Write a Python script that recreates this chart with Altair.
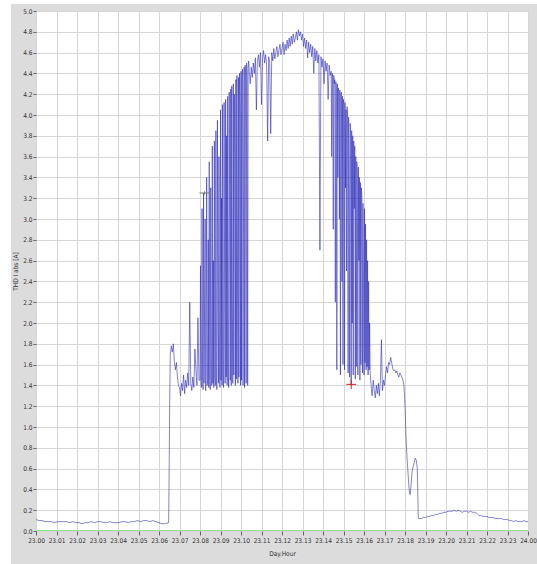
import altair as alt
import pandas as pd

# ---- data (hours after 23.00, THD I abs [A]) ----
night_start, night_step = 0.0, 0.15
night_vals = [0.11, 0.10, 0.10, 0.09, 0.09, 0.09, 0.08, 0.09, 0.09, 0.09, 0.09, 0.08, 0.09, 0.08, 0.08,
              0.07, 0.08, 0.08, 0.09, 0.08, 0.09, 0.09, 0.08, 0.08, 0.09, 0.08, 0.08, 0.08, 0.09, 0.09,
              0.08, 0.09, 0.09, 0.10, 0.09, 0.10, 0.10, 0.09, 0.10, 0.09, 0.08, 0.07, 0.07, 0.08]

rise_hours = [6.47, 6.50, 6.52, 6.55]
rise_vals = [0.08, 0.68, 1.22, 1.70]

morning_start, morning_step = 6.6, 0.05
morning_vals = (
    [1.78, 1.72, 1.80, 1.62, 1.55, 1.62, 1.48, 1.40] +
    [1.38, 1.30, 1.42, 1.35, 1.50, 1.32, 1.45, 1.38, 1.52, 1.40, 2.20, 1.42, 1.35, 1.48, 1.38, 1.75, 1.55, 1.40, 2.05, 1.45]
)

rise_spikes_start, rise_spikes_step = 8.0, 0.025
rise_spikes_vals = (
    [1.45, 2.55, 1.40, 1.38, 3.10, 1.48, 1.36, 3.25] +
    [1.42, 2.20, 3.00, 1.35, 1.50, 3.40, 1.40, 1.46] +
    [2.80, 1.38, 3.55, 1.44, 1.36, 3.30, 1.50, 1.40] +
    [3.70, 1.42, 2.60, 1.38, 3.75, 1.48, 1.40, 3.85] +
    [1.45, 1.36, 3.95, 2.10, 1.42, 3.60, 1.50, 1.38] +
    [4.05, 1.45, 3.20, 1.40, 4.10, 1.52, 1.38, 4.12] +
    [2.50, 1.42, 4.15, 1.48, 3.80, 1.40, 4.18, 1.55] +
    [1.38, 4.22, 3.00, 1.45, 4.25, 1.40, 4.28, 2.20] +
    [1.42, 4.30, 1.50, 4.20, 3.60, 1.40, 4.34, 1.46] +
    [4.38, 2.70, 1.42, 4.36, 1.48, 4.40, 4.00, 1.40] +
    [4.42, 1.45, 4.38, 4.44, 1.40, 3.20, 4.46, 1.38] +
    [4.48, 4.40, 1.42, 4.50, 4.36, 1.40, 4.45, 4.52]
)

noon_start, noon_step = 10.4, 0.05
noon_vals = (
    [4.42, 4.30, 4.46, 4.36, 4.50, 4.40, 4.55, 4.05, 4.52, 4.58, 4.46, 4.60, 4.10, 4.55, 4.62, 4.50, 4.58, 4.48, 3.75, 4.56] +
    [4.50, 3.82, 4.60, 4.52, 4.64, 4.54, 4.60, 4.66, 4.56, 4.62, 4.68, 4.58, 4.64, 4.70, 4.58, 4.68, 4.62, 4.72, 4.64, 4.74] +
    [4.66, 4.76, 4.68, 4.78, 4.70, 4.74, 4.80, 4.72, 4.82, 4.76, 4.80, 4.72, 4.78, 4.66, 4.74, 4.64, 4.72, 4.55, 4.70, 4.60] +
    [4.68, 4.56, 4.66, 4.40, 4.64, 4.52, 4.62, 4.50, 4.58, 2.70, 4.56, 4.46, 4.54, 4.30, 4.52, 4.42, 4.50, 4.15, 4.48, 4.38]
)

fall_spikes_start, fall_spikes_step = 14.4, 0.025
fall_spikes_vals = (
    [4.42, 3.60, 4.40, 4.36, 2.90, 4.38, 4.30, 4.34] +
    [2.20, 4.32, 4.28, 1.55, 4.30, 3.40, 4.26, 4.22] +
    [3.00, 4.24, 1.50, 4.20, 4.22, 2.40, 4.18, 1.60] +
    [4.15, 4.10, 1.55, 4.12, 3.30, 4.05, 2.50, 4.08] +
    [4.00, 1.52, 3.98, 3.60, 1.48, 3.92, 3.80, 1.41] +
    [3.85, 2.00, 3.80, 1.50, 3.75, 3.10, 3.70, 1.46] +
    [3.60, 1.58, 3.55, 3.45, 1.50, 3.50, 2.60, 3.40] +
    [1.45, 3.35, 1.60, 3.30, 3.20, 1.52, 3.15, 2.40] +
    [1.50, 3.10, 1.62, 2.95, 1.55, 2.80, 1.58, 2.60] +
    [1.50, 2.40, 1.55, 2.00, 1.53, 1.45, 1.40, 1.32]
)

dusk_start, dusk_step = 16.4, 0.05
dusk_vals = (
    [1.30, 1.45, 1.35, 1.28, 1.40, 1.32, 1.42, 1.30, 1.45, 1.84, 1.35, 1.45] +
    [1.40, 1.50, 1.58, 1.52, 1.62, 1.60, 1.67, 1.62, 1.56, 1.54, 1.55, 1.52, 1.54, 1.50, 1.48, 1.52, 1.50, 1.48, 1.45, 1.40] +
    [1.20, 0.90, 0.70, 0.55, 0.40, 0.35, 0.45, 0.58, 0.62, 0.66, 0.70, 0.68, 0.60, 0.12]
)

eve_start, eve_step = 18.7, 0.1
eve_vals = [0.12, 0.12, 0.13, 0.13,
            0.14, 0.14, 0.15, 0.15, 0.16, 0.16, 0.17, 0.17, 0.18, 0.18,
            0.19, 0.19, 0.19, 0.20, 0.19, 0.20, 0.19, 0.18, 0.19, 0.19,
            0.18, 0.19, 0.18, 0.18, 0.17, 0.15, 0.15, 0.14, 0.14, 0.14,
            0.13, 0.13, 0.13, 0.12, 0.12, 0.12, 0.12, 0.11, 0.11, 0.11,
            0.10, 0.10, 0.09, 0.10, 0.09, 0.09, 0.09, 0.10, 0.09, 0.09]

red_marker = {"h": [15.375], "v": [1.41]}
gray_marker = {"h": [8.22], "v": [3.25]}
x_ticks = list(range(25))
y_ticks = [round(i * 0.2, 1) for i in range(26)]

# ---- build table ----
hours, vals = [], []
def add_segment(start, step, values):
    for i, v in enumerate(values):
        hours.append(start + i * step)
        vals.append(v)

add_segment(night_start, night_step, night_vals)
hours += rise_hours
vals += rise_vals
add_segment(morning_start, morning_step, morning_vals)
add_segment(rise_spikes_start, rise_spikes_step, rise_spikes_vals)
add_segment(noon_start, noon_step, noon_vals)
add_segment(fall_spikes_start, fall_spikes_step, fall_spikes_vals)
add_segment(dusk_start, dusk_step, dusk_vals)
add_segment(eve_start, eve_step, eve_vals)
df = pd.DataFrame({"h": hours, "v": vals})

W, H = 492, 520
FONT = "Liberation Sans Narrow, Arial Narrow, DejaVu Sans Condensed, Liberation Sans, sans-serif"

xscale = alt.Scale(domain=[0, 24], nice=False, zero=False)
yscale = alt.Scale(domain=[0, 5], nice=False)

xaxis = alt.Axis(values=x_ticks, grid=True, gridColor="#d6d6d6", domain=False, labelOverlap=False,
                 labelFlush=False, labelBound=False,
                 tickColor="#666", tickSize=4, labelFontSize=6.5, labelFont=FONT, labelColor="#333",
                 labelPadding=2, title="Day.Hour", titleFontSize=6.5, titleFont=FONT,
                 titleFontWeight="normal", titleColor="#333", titlePadding=7,
                 labelExpr="datum.value == 24 ? '24.00' : '23.' + (datum.value < 10 ? '0' : '') + datum.value")
yaxis = alt.Axis(values=y_ticks, format=".1f", grid=True, gridColor="#d6d6d6", domain=False, labelOverlap=False,
                 labelFlush=False, labelBound=False,
                 tickColor="#666", tickSize=3, labelFontSize=6.5, labelFont=FONT, labelColor="#333",
                 labelPadding=1, title="THD I abs [A]", titleFontSize=6.5, titleFont=FONT,
                 titleFontWeight="normal", titleColor="#333", titleX=-18, titleY=H / 2)

X = alt.X("h:Q", scale=xscale, axis=xaxis)
Y = alt.Y("v:Q", scale=yscale, axis=yaxis)

zero_df = pd.DataFrame({"h": [0, 24], "v": [0, 0]})
green = alt.Chart(zero_df).mark_line(color="#8fe08f", strokeWidth=2, clip=True).encode(x=X, y=Y)

line = alt.Chart(df).mark_line(color="#2323b8", strokeWidth=0.7, opacity=0.8).encode(x=X, y=Y)

cross_path = "M-1,0L1,0M0,-1L0,1"
red = alt.Chart(pd.DataFrame(red_marker)).mark_point(
    shape=cross_path, size=90, filled=False, color="#d02020", strokeWidth=1, opacity=1).encode(x=X, y=Y)
gray = alt.Chart(pd.DataFrame(gray_marker)).mark_point(
    shape="M-1.6,0L1.6,0M0,-0.5L0,0.5", size=40, filled=False, color="#777", strokeWidth=1, opacity=1).encode(x=X, y=Y)

one = pd.DataFrame({"a": [0]})
white_left = alt.Chart(one).mark_rect(color="white").encode(
    x=alt.value(-36), x2=alt.value(-25), y=alt.value(-11), y2=alt.value(H + 33))
white_top = alt.Chart(one).mark_rect(color="white").encode(
    x=alt.value(-36), x2=alt.value(W + 9), y=alt.value(-11), y2=alt.value(-7))

chart = alt.layer(white_left, white_top, green, line, red, gray).properties(
    width=W, height=H,
    autosize=alt.AutoSizeParams(type="none"),
    padding={"left": 36, "top": 11, "right": 9, "bottom": 33},
    background="#dcdcdc",
).configure_view(fill="white", stroke="#c8c8c8", strokeWidth=1
).configure_axis(labelOverlap=False, labelFlush=False)

chart.save("out.html", embed_options={"renderer": "svg", "actions": False})
